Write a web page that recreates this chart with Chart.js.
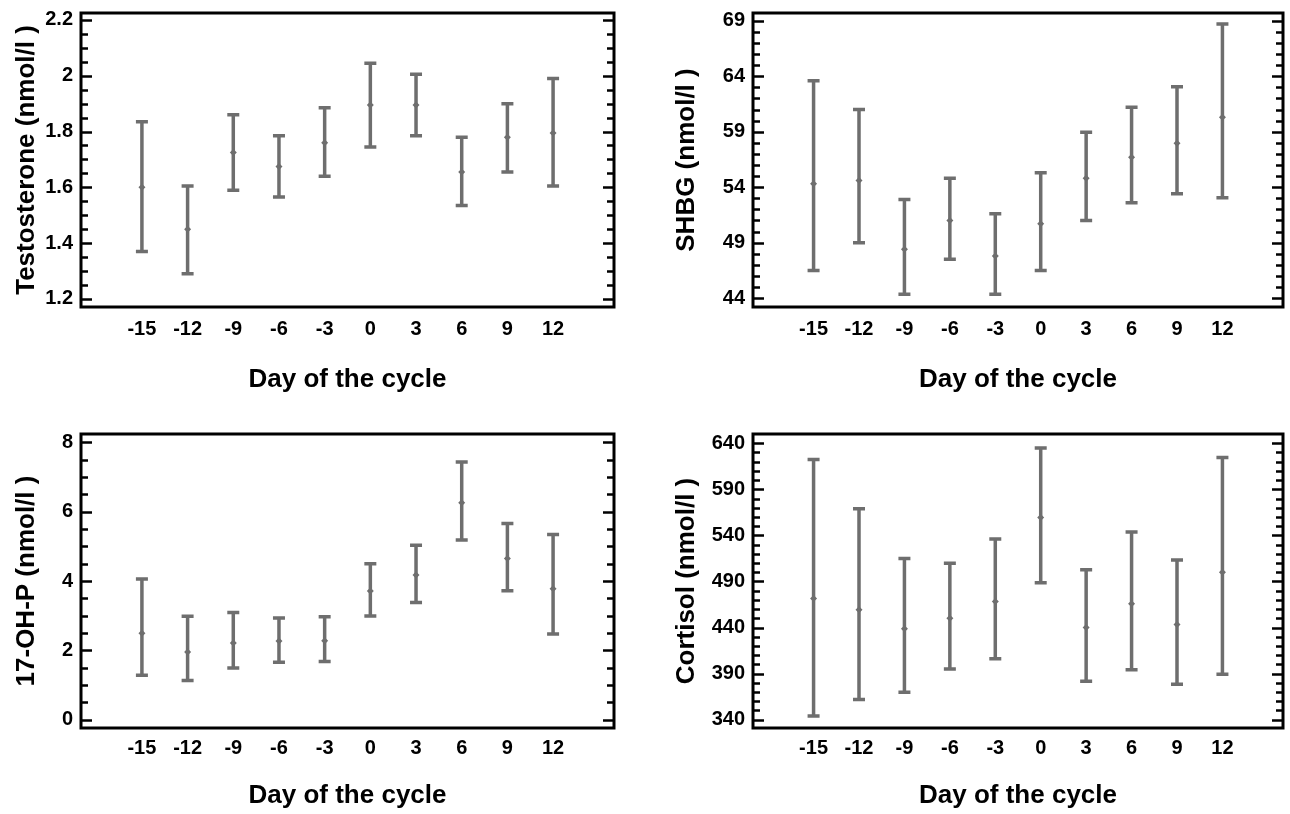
<!DOCTYPE html>
<html>
<head>
<meta charset="utf-8">
<title>Hormones across the cycle</title>
<script src="https://cdn.jsdelivr.net/npm/chart.js@4.4.1/dist/chart.umd.min.js"></script>
<style>
  html, body { margin: 0; padding: 0; background: #fff; }
  #wrap { position: relative; width: 1290px; height: 814px; }
  #wrap canvas { position: absolute; }
</style>
</head>
<body>
<div id="wrap">
  <canvas id="testoChart" width="645" height="407" style="left:0;top:0"></canvas>
  <canvas id="shbgChart" width="645" height="407" style="left:645px;top:0"></canvas>
  <canvas id="ohpChart" width="645" height="407" style="left:0;top:407px"></canvas>
  <canvas id="cortisolChart" width="645" height="407" style="left:645px;top:407px"></canvas>
</div>
<script>
// Day of the cycle
const days = [-15, -12, -9, -6, -3, 0, 3, 6, 9, 12];

// Testosterone (nmol/l)
const testoMean = [1.60, 1.45, 1.725, 1.675, 1.76, 1.895, 1.895, 1.655, 1.78, 1.795];
const testoHigh = [1.835, 1.605, 1.86, 1.785, 1.885, 2.045, 2.005, 1.78, 1.90, 1.99];
const testoLow  = [1.37, 1.29, 1.59, 1.565, 1.64, 1.745, 1.785, 1.535, 1.655, 1.605];
const testoTicks = [1.2, 1.4, 1.6, 1.8, 2, 2.2];

// SHBG (nmol/l)
const shbgMean = [54.3, 54.6, 48.4, 51.0, 47.8, 50.7, 54.8, 56.7, 57.95, 60.3];
const shbgHigh = [63.6, 61.0, 52.9, 54.8, 51.6, 55.3, 58.95, 61.2, 63.05, 68.7];
const shbgLow  = [46.5, 49.0, 44.35, 47.5, 44.35, 46.5, 51.0, 52.6, 53.4, 53.05];
const shbgTicks = [44, 49, 54, 59, 64, 69];

// 17-OH-P (nmol/l)
const ohpMean = [2.49, 1.95, 2.21, 2.27, 2.28, 3.71, 4.17, 6.26, 4.65, 3.78];
const ohpHigh = [4.06, 2.98, 3.09, 2.93, 2.97, 4.50, 5.03, 7.43, 5.66, 5.34];
const ohpLow  = [1.28, 1.13, 1.49, 1.66, 1.68, 2.99, 3.38, 5.18, 3.72, 2.47];
const ohpTicks = [0, 2, 4, 6, 8];

// Cortisol (nmol/l)
const cortisolMean = [471.5, 459.3, 438.7, 450.2, 468.2, 559.5, 440.1, 465.8, 443.4, 500];
const cortisolHigh = [622.3, 568.9, 514.8, 509.7, 536.1, 634.9, 502.6, 543.7, 513.4, 624.4];
const cortisolLow  = [344, 361.9, 369.8, 395, 406.2, 488.5, 381.7, 394.3, 378.4, 389.2];
const cortisolTicks = [340, 390, 440, 490, 540, 590, 640];

const barColor = '#6e6e6e';

Chart.defaults.font.family = "'Liberation Sans', Arial, Helvetica, sans-serif";
Chart.defaults.font.weight = 'bold';
Chart.defaults.color = '#000';

// Build one panel: mean points, error bars, boxed frame with inner ticks
function makePanel(canvasId, p) {
    const ctx = document.getElementById(canvasId).getContext('2d');
    const left = p.side === 'left';
    const top = p.row === 'top';

    // error bars drawn under the mean markers
    const errorBars = {
        id: 'errorBars',
        beforeDatasetsDraw(chart) {
            const c = chart.ctx, xs = chart.scales.x, ys = chart.scales.y;
            c.save();
            c.strokeStyle = barColor;
            c.lineWidth = 3.5;
            c.lineCap = 'butt';
            days.forEach((d, i) => {
                const px = xs.getPixelForValue(d);
                const lo = ys.getPixelForValue(p.low[i]);
                const hi = ys.getPixelForValue(p.high[i]);
                c.beginPath();
                c.moveTo(px, lo); c.lineTo(px, hi);
                c.moveTo(px - 6, lo); c.lineTo(px + 6, lo);
                c.moveTo(px - 6, hi); c.lineTo(px + 6, hi);
                c.stroke();
            });
            c.restore();
        }
    };

    // black box with major/minor ticks pointing inwards on both sides
    const frame = {
        id: 'frame',
        afterDraw(chart) {
            const c = chart.ctx, a = chart.chartArea, ys = chart.scales.y;
            const first = p.ticks[0], last = p.ticks[p.ticks.length - 1];
            const n = Math.round((last - first) / p.minorStep);
            c.save();
            c.strokeStyle = '#000';
            c.lineWidth = 2.5;
            c.beginPath();
            for (let k = 0; k <= n; k++) {
                const v = first + k * p.minorStep;
                const major = p.ticks.some(t => Math.abs(t - v) < p.minorStep / 10);
                const len = major ? 11 : 7;
                const py = Math.round(ys.getPixelForValue(v)) + 0.5;
                c.moveTo(a.left, py); c.lineTo(a.left + len, py);
                c.moveTo(a.right, py); c.lineTo(a.right - len, py);
            }
            c.stroke();
            c.lineWidth = 3;
            c.strokeRect(a.left, a.top, a.right - a.left, a.bottom - a.top);
            c.restore();
        }
    };

    new Chart(ctx, {
        type: 'scatter',
        data: {
            datasets: [{
                data: days.map((d, i) => ({ x: d, y: p.mean[i] })),
                pointStyle: 'rectRot',
                pointRadius: 3.5,
                pointBackgroundColor: barColor,
                pointBorderWidth: 0
            }]
        },
        plugins: [errorBars, frame],
        options: {
            responsive: false,
            animation: false,
            events: [],
            layout: {
                padding: { left: 0, top: top ? 13 : 27, right: left ? 31 : 7, bottom: 0 }
            },
            plugins: {
                legend: { display: false },
                tooltip: { enabled: false }
            },
            scales: {
                x: {
                    type: 'linear',
                    min: -19,
                    max: 16,
                    grid: { display: false, drawTicks: false },
                    border: { display: false },
                    afterBuildTicks: s => { s.ticks = days.map(v => ({ value: v })); },
                    afterFit: s => {
                        s.height = top ? 100 : 86;
                        s.paddingLeft = 0;
                        s.paddingRight = 0;
                    },
                    ticks: {
                        autoSkip: false,
                        maxRotation: 0,
                        padding: top ? 10 : 8,
                        font: { size: 20, weight: 'bold' },
                        callback: v => String(v)
                    },
                    title: {
                        display: true,
                        text: 'Day of the cycle',
                        font: { size: 26, weight: 'bold' },
                        padding: { top: 0, bottom: top ? 12 : 2.5 }
                    }
                },
                y: {
                    min: p.yMin,
                    max: p.yMax,
                    grid: { display: false, drawTicks: false },
                    border: { display: false },
                    afterBuildTicks: s => { s.ticks = p.ticks.map(v => ({ value: v })); },
                    afterFit: s => {
                        s.width = left ? 81 : 108;
                        s.paddingTop = 0;
                        s.paddingBottom = 0;
                    },
                    ticks: {
                        autoSkip: false,
                        padding: 8,
                        font: { size: 20, weight: 'bold' },
                        callback: v => String(v)
                    },
                    title: {
                        display: true,
                        text: p.title,
                        font: { size: 26, weight: 'bold' },
                        padding: { top: left ? 11.5 : 26.5, bottom: 0 }
                    }
                }
            }
        }
    });
}

makePanel('testoChart', {
    side: 'left', row: 'top', title: 'Testosterone (nmol/l )',
    mean: testoMean, high: testoHigh, low: testoLow,
    ticks: testoTicks, minorStep: 0.05, yMin: 1.171, yMax: 2.225
});
makePanel('shbgChart', {
    side: 'right', row: 'top', title: 'SHBG (nmol/l )',
    mean: shbgMean, high: shbgHigh, low: shbgLow,
    ticks: shbgTicks, minorStep: 1, yMin: 43.2, yMax: 69.7
});
makePanel('ohpChart', {
    side: 'left', row: 'bottom', title: '17-OH-P (nmol/l )',
    mean: ohpMean, high: ohpHigh, low: ohpLow,
    ticks: ohpTicks, minorStep: 0.5, yMin: -0.24, yMax: 8.24
});
makePanel('cortisolChart', {
    side: 'right', row: 'bottom', title: 'Cortisol (nmol/l )',
    mean: cortisolMean, high: cortisolHigh, low: cortisolLow,
    ticks: cortisolTicks, minorStep: 10, yMin: 331, yMax: 650
});
</script>
</body>
</html>
